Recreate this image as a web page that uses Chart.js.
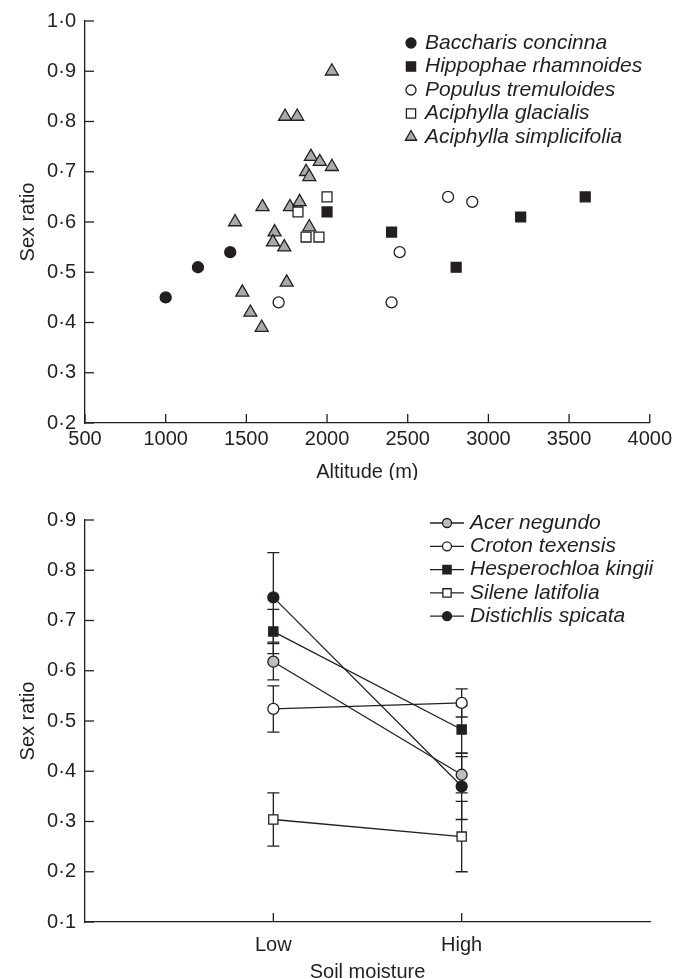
<!DOCTYPE html>
<html>
<head>
<meta charset="utf-8">
<script src="https://cdn.jsdelivr.net/npm/chart.js@4.4.1/dist/chart.umd.min.js"></script>
<style>
    body { margin: 0; background: #fff; }
    .caja { position: absolute; left: 0; width: 676px; }
</style>
</head>
<body>
<div class="caja" style="top:0;height:480px"><canvas id="graficoAltitud" width="676" height="480"></canvas></div>
<div class="caja" style="top:480px;height:499px"><canvas id="graficoHumedad" width="676" height="499"></canvas></div>
<script>
// Panel superior: proporción de sexos según altitud
const baccharisAlt = [1000, 1200, 1400];
const baccharisRatio = [0.45, 0.51, 0.54];
const hippophaeAlt = [2000, 2400, 2800, 3200, 3600];
const hippophaeRatio = [0.62, 0.58, 0.51, 0.61, 0.65];
const populusAlt = [1700, 2400, 2450, 2750, 2900];
const populusRatio = [0.44, 0.44, 0.54, 0.65, 0.64];
const glacialisAlt = [1820, 1870, 1950, 2000];
const glacialisRatio = [0.62, 0.57, 0.57, 0.65];
const simplicifoliaAlt = [2030, 1740, 1815, 1900, 1955, 2030, 1870, 1890, 1600, 1770, 1830, 1430, 1890, 1675, 1665, 1735, 1750, 1475, 1525, 1595];
const simplicifoliaRatio = [0.90, 0.81, 0.81, 0.73, 0.72, 0.71, 0.70, 0.69, 0.63, 0.63, 0.64, 0.60, 0.59, 0.58, 0.56, 0.55, 0.48, 0.46, 0.42, 0.39];

// Panel inferior: humedad del suelo (Low, High)
const nivelesHumedad = ['Low', 'High'];
const acerRatio = [0.618, 0.393];
const acerError = [0.036, 0.036];
const crotonRatio = [0.524, 0.536];
const crotonError = [0.046, 0.028];
const hesperochloaRatio = [0.678, 0.483];
const hesperochloaError = [0.044, 0.047];
const sileneRatio = [0.304, 0.270];
const sileneError = [0.053, 0.070];
const distichlisRatio = [0.746, 0.370];
const distichlisError = [0.089, 0.066];

const NEGRO = '#231f20';
const FUENTE = "'Liberation Sans', Arial, sans-serif";

function puntos(xs, ys) {
    return xs.map((x, i) => ({ x: x, y: ys[i] }));
}

function formatoPunto(valor) {
    return Number(valor).toFixed(1).replace('.', '·');
}

// marcas de los ejes hacia dentro
const marcasInternas = {
    id: 'marcasInternas',
    afterDraw(chart) {
        const ctx = chart.ctx;
        const { left, bottom } = chart.chartArea;
        ctx.save();
        ctx.strokeStyle = NEGRO;
        ctx.lineWidth = 1.3;
        chart.scales.y.ticks.forEach(t => {
            const py = chart.scales.y.getPixelForValue(t.value);
            ctx.beginPath();
            ctx.moveTo(left, py);
            ctx.lineTo(left + 9, py);
            ctx.stroke();
        });
        chart.scales.x.ticks.forEach(t => {
            const px = chart.scales.x.getPixelForValue(t.value);
            ctx.beginPath();
            ctx.moveTo(px, bottom);
            ctx.lineTo(px, bottom - 9);
            ctx.stroke();
        });
        ctx.restore();
    }
};

// barras de error del panel inferior
const barrasError = {
    id: 'barrasError',
    beforeDatasetsDraw(chart) {
        const ctx = chart.ctx;
        const y = chart.scales.y, x = chart.scales.x;
        ctx.save();
        ctx.strokeStyle = NEGRO;
        ctx.lineWidth = 1.3;
        chart.data.datasets.forEach(ds => {
            ds.data.forEach((p, i) => {
                const e = ds.errores[i];
                const px = x.getPixelForValue(p.x);
                const arriba = y.getPixelForValue(p.y + e);
                const abajo = y.getPixelForValue(p.y - e);
                ctx.beginPath();
                ctx.moveTo(px, arriba); ctx.lineTo(px, abajo);
                ctx.moveTo(px - 6, arriba); ctx.lineTo(px + 6, arriba);
                ctx.moveTo(px - 6, abajo); ctx.lineTo(px + 6, abajo);
                ctx.stroke();
            });
        });
        ctx.restore();
    }
};

// leyenda dibujada a mano dentro del área
const leyendaPropia = {
    id: 'leyendaPropia',
    afterDraw(chart, args, opts) {
        const ctx = chart.ctx;
        ctx.save();
        ctx.font = 'italic 21px ' + FUENTE;
        ctx.textBaseline = 'middle';
        chart.data.datasets.forEach((ds, i) => {
            const yy = opts.y + i * opts.paso;
            if (opts.conLinea) {
                ctx.strokeStyle = NEGRO;
                ctx.lineWidth = 1.3;
                ctx.beginPath();
                ctx.moveTo(opts.x - 17, yy);
                ctx.lineTo(opts.x + 17, yy);
                ctx.stroke();
            }
            ctx.fillStyle = ds.pointBackgroundColor || ds.backgroundColor;
            ctx.strokeStyle = NEGRO;
            ctx.lineWidth = 1.3;
            Chart.helpers.drawPoint(ctx, {
                pointStyle: ds.pointStyle,
                rotation: 0,
                radius: ds.pointStyle === 'circle' ? opts.radio : opts.radio * 1.3,
                borderWidth: 1.3
            }, opts.x, yy);
            ctx.fillStyle = NEGRO;
            ctx.fillText(ds.label, opts.xTexto, yy);
        });
        ctx.restore();
    }
};

function escalaY(min, max) {
    return {
        type: 'linear',
        min: min,
        max: max,
        grid: { display: false, drawTicks: false },
        border: { display: true, color: NEGRO, width: 1.3 },
        ticks: {
            stepSize: 0.1,
            padding: 9,
            color: NEGRO,
            font: { family: FUENTE, size: 20 },
            callback: formatoPunto
        },
        title: {
            display: true,
            text: 'Sex ratio',
            color: NEGRO,
            font: { family: FUENTE, size: 20, lineHeight: 1 },
            padding: { top: 18, bottom: 0 }
        },
        afterFit: (s) => { s.width = 85; }
    };
}

Chart.defaults.animation = false;

new Chart(document.getElementById('graficoAltitud'), {
    type: 'scatter',
    data: {
        datasets: [
            { label: 'Baccharis concinna', data: puntos(baccharisAlt, baccharisRatio), pointStyle: 'circle', pointRadius: 5.5, backgroundColor: NEGRO, borderColor: NEGRO, borderWidth: 1.3 },
            { label: 'Hippophae rhamnoides', data: puntos(hippophaeAlt, hippophaeRatio), pointStyle: 'rect', pointRadius: 7, backgroundColor: NEGRO, borderColor: NEGRO, borderWidth: 1.3 },
            { label: 'Populus tremuloides', data: puntos(populusAlt, populusRatio), pointStyle: 'circle', pointRadius: 5.5, backgroundColor: '#ffffff', borderColor: NEGRO, borderWidth: 1.3 },
            { label: 'Aciphylla glacialis', data: puntos(glacialisAlt, glacialisRatio), pointStyle: 'rect', pointRadius: 7, backgroundColor: '#ffffff', borderColor: NEGRO, borderWidth: 1.3 },
            { label: 'Aciphylla simplicifolia', data: puntos(simplicifoliaAlt, simplicifoliaRatio), pointStyle: 'triangle', pointRadius: 7.5, backgroundColor: '#a7a9ac', borderColor: NEGRO, borderWidth: 1.3 }
        ]
    },
    options: {
        responsive: false,
        layout: { padding: { top: 20, right: 26, left: 0, bottom: 0 } },
        plugins: {
            legend: { display: false },
            tooltip: { enabled: false },
            leyendaPropia: { x: 411, xTexto: 425, y: 43, paso: 23.5, radio: 5, conLinea: false }
        },
        scales: {
            x: {
                type: 'linear',
                min: 500,
                max: 4000,
                grid: { display: false, drawTicks: false },
                border: { display: true, color: NEGRO, width: 1.3 },
                ticks: { stepSize: 500, padding: 4, color: NEGRO, maxRotation: 0, font: { family: FUENTE, size: 20 },
                    callback: (v) => String(v) },
                title: { display: true, text: 'Altitude (m)', color: NEGRO, font: { family: FUENTE, size: 20, lineHeight: 1 }, padding: { top: 0, bottom: -2 } },
                afterFit: (s) => { s.height = 57; }
            },
            y: escalaY(0.2, 1.0)
        }
    },
    plugins: [marcasInternas, leyendaPropia]
});

function serieHumedad(nombre, valores, errores, estilo, relleno) {
    return {
        label: nombre,
        data: valores.map((v, i) => ({ x: i + 1, y: v })),
        errores: errores,
        borderColor: NEGRO,
        borderWidth: 1.3,
        pointStyle: estilo,
        pointRadius: estilo === 'circle' ? 5.5 : 6.5,
        pointBackgroundColor: relleno,
        pointBorderColor: NEGRO,
        pointBorderWidth: 1.3,
        fill: false,
        tension: 0
    };
}

new Chart(document.getElementById('graficoHumedad'), {
    type: 'line',
    data: {
        datasets: [
            serieHumedad('Acer negundo', acerRatio, acerError, 'circle', '#bcbec0'),
            serieHumedad('Croton texensis', crotonRatio, crotonError, 'circle', '#ffffff'),
            serieHumedad('Hesperochloa kingii', hesperochloaRatio, hesperochloaError, 'rect', NEGRO),
            serieHumedad('Silene latifolia', sileneRatio, sileneError, 'rect', '#ffffff'),
            serieHumedad('Distichlis spicata', distichlisRatio, distichlisError, 'circle', NEGRO)
        ]
    },
    options: {
        responsive: false,
        layout: { padding: { top: 40, right: 26, left: 0, bottom: 0 } },
        plugins: {
            legend: { display: false },
            tooltip: { enabled: false },
            leyendaPropia: { x: 447, xTexto: 470, y: 43, paso: 23.3, radio: 4.5, conLinea: true }
        },
        scales: {
            x: {
                type: 'linear',
                min: 0,
                max: 3,
                afterBuildTicks: (s) => { s.ticks = nivelesHumedad.map((n, i) => ({ value: i + 1 })); },
                grid: { display: false, drawTicks: false },
                border: { display: true, color: NEGRO, width: 1.3 },
                ticks: { padding: 11, color: NEGRO, maxRotation: 0, font: { family: FUENTE, size: 20 },
                    callback: (v) => nivelesHumedad[v - 1] },
                title: { display: true, text: 'Soil moisture', color: NEGRO, font: { family: FUENTE, size: 20, lineHeight: 1 }, padding: { top: 0, bottom: -3 } },
                afterFit: (s) => { s.height = 57; }
            },
            y: escalaY(0.1, 0.9)
        }
    },
    plugins: [barrasError, marcasInternas, leyendaPropia]
});
</script>
</body>
</html>
